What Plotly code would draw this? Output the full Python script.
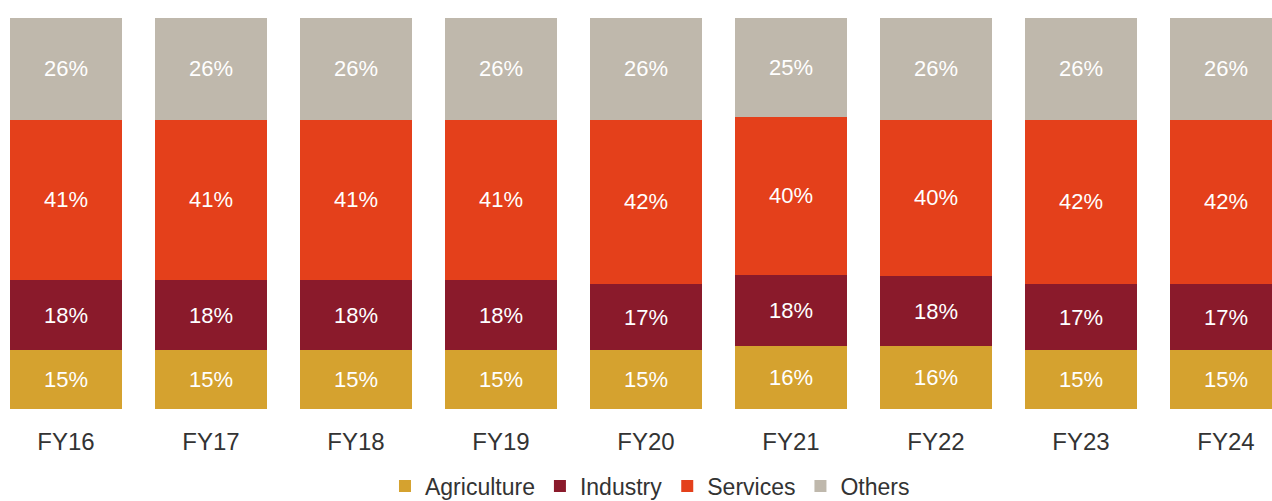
import plotly.graph_objects as go

years = ["FY16", "FY17", "FY18", "FY19", "FY20", "FY21", "FY22", "FY23", "FY24"]
agriculture = [15, 15, 15, 15, 15, 16, 16, 15, 15]
industry = [18, 18, 18, 18, 17, 18, 18, 17, 17]
services = [41, 41, 41, 41, 42, 40, 40, 42, 42]
others = [26, 26, 26, 26, 26, 25, 26, 26, 26]

series = [
    ("Agriculture", agriculture, "#D5A22F"),
    ("Industry", industry, "#8A1A2B"),
    ("Services", services, "#E4401B"),
    ("Others", others, "#BFB8AC"),
]

FONT = "Liberation Sans, Arial, sans-serif"

fig = go.Figure()
for name, vals, color in series:
    fig.add_trace(go.Bar(
        name=name,
        x=years,
        y=vals,
        marker=dict(color=color, line=dict(width=0)),
        text=[f"{v}%" for v in vals],
        textposition="inside",
        insidetextanchor="middle",
        textangle=0,
        textfont=dict(family=FONT, size=22, color="white"),
        cliponaxis=True,
    ))

fig.update_layout(
    barmode="stack",
    barnorm="percent",
    bargap=0.228,
    width=1272,
    height=501,
    margin=dict(l=0, r=0, t=18, b=92, autoexpand=False),
    paper_bgcolor="white",
    plot_bgcolor="white",
    xaxis=dict(
        type="category",
        range=[-0.455, 8.317],
        automargin=False,
        showgrid=False,
        showline=False,
        zeroline=False,
        ticks="",
        ticklabelstandoff=16,
        tickfont=dict(family=FONT, size=24, color="#333333"),
    ),
    yaxis=dict(
        range=[0, 100],
        visible=False,
    ),
    legend=dict(
        orientation="h",
        x=0.511,
        xanchor="center",
        y=-0.197,
        yanchor="middle",
        font=dict(family=FONT, size=23, color="#333333"),
        itemwidth=30,
        traceorder="normal",
    ),
    showlegend=True,
)

fig.write_html("out.html")
